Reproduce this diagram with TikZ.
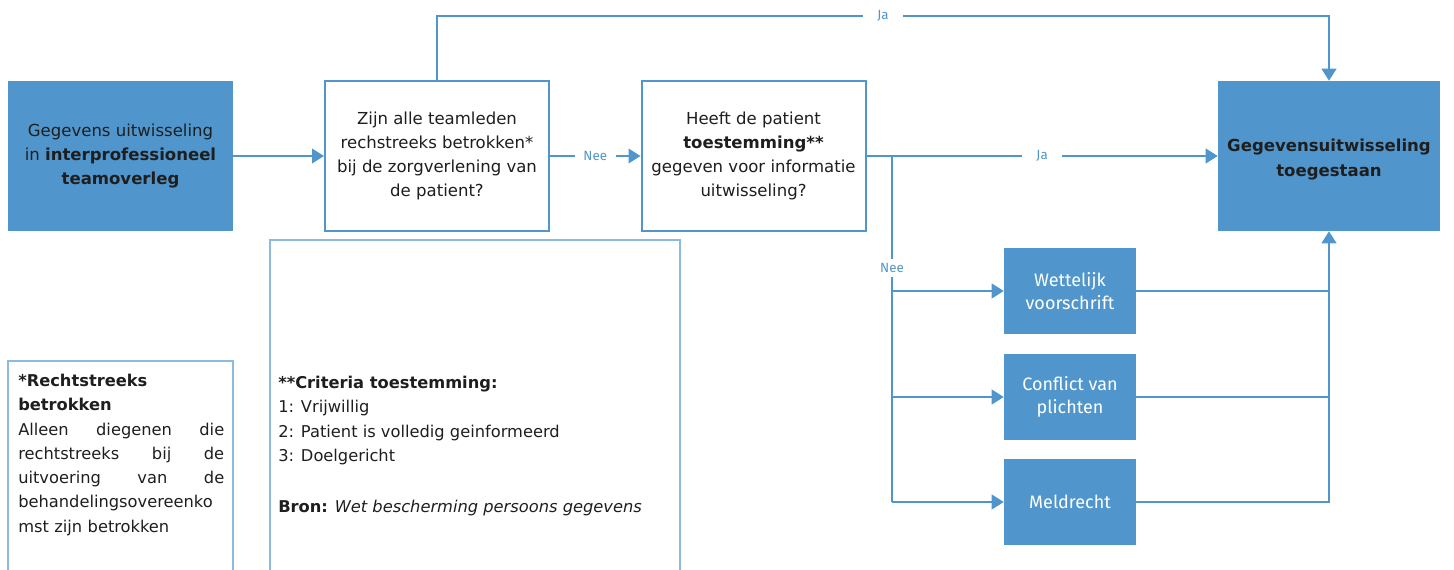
\documentclass[tikz,border=0pt]{standalone}
\usepackage{fontspec}
\setmainfont{DejaVu Sans}
\newfontfamily\lblfont{Fira Sans}
\usetikzlibrary{arrows.meta}
\definecolor{fblue}{HTML}{5096CC}
\definecolor{nblue}{HTML}{8DBBE0}
\definecolor{txt}{HTML}{1E1E1E}
\begin{document}
\begin{tikzpicture}[x=0.75pt,y=-0.75pt,
  mainfont/.style={font=\fontsize{12.4}{18.2}\selectfont},
  bluebox/.style={fill=fblue, draw=none, text=txt, align=center, inner sep=0pt,
    minimum width=168.75pt, minimum height=112.5pt, mainfont},
  qbox/.style={fill=white, draw=fblue, line width=1.5pt, text=txt, align=center, inner sep=0pt,
    minimum width=168pt, minimum height=112.5pt, mainfont},
  smallbox/.style={fill=fblue, draw=none, text=white, align=center, inner sep=0pt,
    minimum width=99pt, minimum height=64.5pt, font=\lblfont\fontsize{13.5}{17.5}\selectfont},
  conn/.style={draw=fblue, line width=1.5pt},
  arr/.style={conn, -{Triangle[length=9pt,width=11pt]}},
  lbl/.style={fill=white, text=fblue, minimum width=30.5pt, inner xsep=2pt, inner ysep=1pt, font=\lblfont\fontsize{10}{11}\selectfont},
  notebox/.style={draw=nblue, line width=0.9pt},
  notetext/.style={anchor=north west, inner sep=0pt, text=txt, align=left, font=\fontsize{12.2}{18.2}\selectfont}
]
\useasboundingbox (0,0) rectangle (1454,570);

% main nodes
\node[bluebox] (A) at (120.5,156) {Gegevens uitwisseling\\in \textbf{interprofessioneel}\\\textbf{teamoverleg}};
\node[qbox] (B) at (437,156) {Zijn alle teamleden\\rechstreeks betrokken*\\bij de zorgverlening van\\de patient?};
\node[qbox] (C) at (753.5,156) {Heeft de patient\\\textbf{toestemming**}\\gegeven voor informatie\\uitwisseling?};
\node[bluebox, minimum width=166.5pt,
  label={[mainfont, align=center, text=txt, inner sep=0pt, yshift=-2.5pt]center:{\textbf{Gegevensuitwisseling}\\[0.8pt]\textbf{toegestaan}}}] (D) at (1329,156) {};

\node[smallbox] (W) at (1070,291) {Wettelijk\\voorschrift};
\node[smallbox] (K) at (1070,397) {Conflict van\\plichten};
\node[smallbox] (M) at (1070,502) {Meldrecht};

% connectors
\draw[arr] (A) -- (B);
\draw[arr] (B) -- node[lbl]{Nee} (C);
\coordinate (t1) at (437,16);
\coordinate (t2) at (1329,16);
\draw[arr] (B.north) -- (t1) -- node[lbl]{Ja} (t2) -- (D.north);
\draw[arr] (C) -- node[lbl]{Ja} (D);

\coordinate (br) at (892,156);
\coordinate (bb) at (892,502);
\draw[conn] (br) -- node[lbl, pos=0.324, minimum width=0pt, inner xsep=2pt, inner ysep=3pt]{Nee} (bb);
\draw[arr] (br |- W.west) -- (W.west);
\draw[arr] (br |- K.west) -- (K.west);
\draw[arr] (bb) -- (M.west);

\coordinate (rr) at (1329,502);
\draw[conn] (W.east) -- (rr |- W.east);
\draw[conn] (K.east) -- (rr |- K.east);
\draw[arr] (M.east) -- (rr) -- (D.south);

% notes
\draw[notebox] (8,572) -- (8,361) -- (233,361) -- (233,572);
\node[notetext, text width=154.5pt] (N1) at (18,374) {%
\textbf{*Rechtstreeks}\\
\textbf{betrokken}\\
Alleen\hfill diegenen\hfill die\\
rechtstreeks\hfill bij\hfill de\\
uitvoering\hfill van\hfill de\\
behandelingsovereenko\\
mst zijn betrokken};

\draw[notebox] (270,572) -- (270,240) -- (680,240) -- (680,572);
\node[notetext] (N2) at (278,376) {%
\textbf{**Criteria toestemming:}\\
1: Vrijwillig\\
2: Patient is volledig geinformeerd\\
3: Doelgericht\\[20pt]
\textbf{Bron:} \textit{Wet bescherming persoons gegevens}};
\end{tikzpicture}
\end{document}
